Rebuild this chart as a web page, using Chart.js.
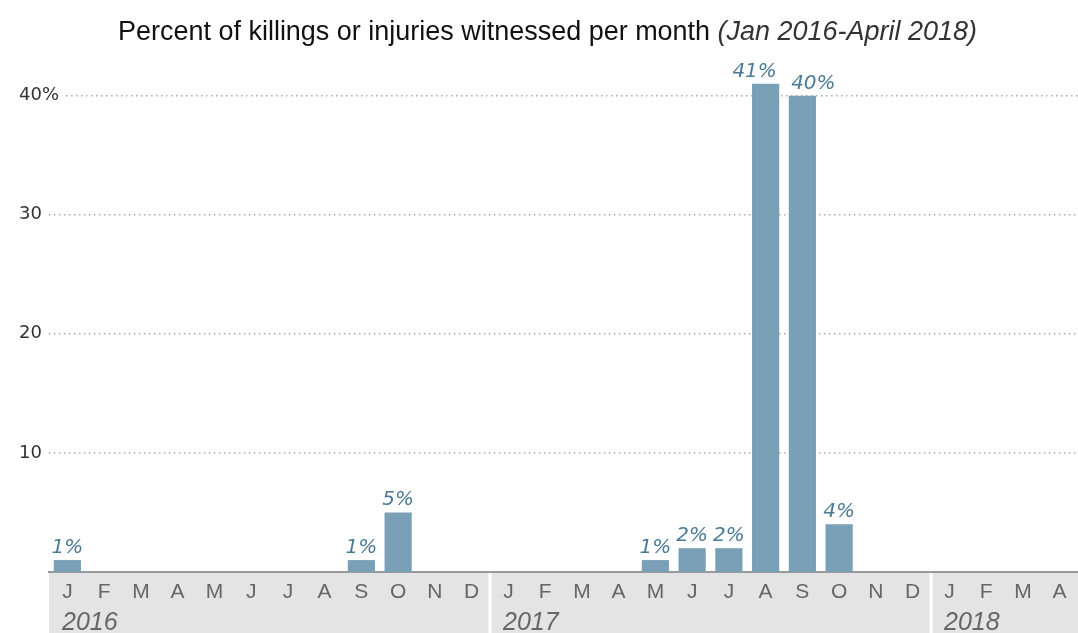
<!DOCTYPE html>
<html>
<head>
<meta charset="utf-8">
<script src="https://cdn.jsdelivr.net/npm/chart.js@4.4.1/dist/chart.umd.min.js"></script>
<style>
html, body { margin: 0; padding: 0; background: #fff; }
#wrap { width: 1078px; height: 633px; position: relative; }
</style>
</head>
<body>
<div id="wrap"><canvas id="myChart"></canvas></div>
<script>
const canvas = document.getElementById('myChart');

// podaci procitani sa slike
const monthLabels = ['J', 'F', 'M', 'A', 'M', 'J', 'J', 'A', 'S', 'O', 'N', 'D',
    'J', 'F', 'M', 'A', 'M', 'J', 'J', 'A', 'S', 'O', 'N', 'D',
    'J', 'F', 'M', 'A'];
const yearLabels = ['2016', '2017', '2018'];
const yearStart = [0, 12, 24];
const percentValues = [1, 0, 0, 0, 0, 0, 0, 0, 1, 5, 0, 0,
    0, 0, 0, 0, 1, 2, 2, 41, 40, 4, 0, 0,
    0, 0, 0, 0];
const yTicks = [10, 20, 30, 40];
const titleMain = 'Percent of killings or injuries witnessed per month ';
const titleSub = '(Jan 2016-April 2018)';

const barColor = '#7aa0b8';
const labelColor = '#4b7b95';

// granica izmedju godina
function yearEdge(x, i) {
    if (i === 0) return x.left;
    return (x.getPixelForValue(i - 1) + x.getPixelForValue(i)) / 2;
}

const decor = {
    id: 'decor',
    beforeDraw(chart) {
        const { ctx, chartArea, scales: { x } } = chart;
        ctx.save();
        // siva traka ispod ose
        ctx.fillStyle = '#e4e4e4';
        ctx.fillRect(chartArea.left, chartArea.bottom, chartArea.right - chartArea.left, chart.height - chartArea.bottom);
        ctx.fillStyle = '#ffffff';
        yearStart.slice(1).forEach(i => {
            const xx = yearEdge(x, i);
            ctx.fillRect(xx - 1.5, chartArea.bottom, 3, chart.height - chartArea.bottom);
        });
        // godine
        ctx.font = 'italic 25px "Liberation Sans", Arial, sans-serif';
        ctx.fillStyle = '#666';
        ctx.textAlign = 'left';
        ctx.textBaseline = 'alphabetic';
        yearStart.forEach((i, k) => {
            ctx.fillText(yearLabels[k], yearEdge(x, i) + 13, chart.height - 3);
        });
        // naslov - velicina se prilagodjava sirini
        const fam = '"Liberation Sans", Arial, sans-serif';
        ctx.font = '22px ' + fam;
        let w = ctx.measureText(titleMain).width;
        ctx.font = 'italic 22px ' + fam;
        w += ctx.measureText(titleSub).width;
        const size = 22 * 859 / w;
        const fMain = size + 'px ' + fam;
        const fSub = 'italic ' + size + 'px ' + fam;
        ctx.font = fMain;
        const w1 = ctx.measureText(titleMain).width;
        const start = 118;
        ctx.fillStyle = '#111';
        ctx.fillText(titleMain, start, 40);
        ctx.fillStyle = '#333';
        ctx.font = fSub;
        ctx.fillText(titleSub, start + w1, 40);
        ctx.restore();
    },
    beforeDatasetsDraw(chart) {
        const { ctx, chartArea, scales: { y } } = chart;
        ctx.save();
        ctx.font = '18px "DejaVu Sans", sans-serif';
        ctx.textBaseline = 'middle';
        ctx.textAlign = 'left';
        yTicks.forEach(v => {
            const yy = y.getPixelForValue(v);
            const txt = v === 40 ? v + '%' : String(v);
            ctx.fillStyle = '#333';
            ctx.fillText(txt, 19, yy);
            const w = ctx.measureText(txt).width;
            ctx.strokeStyle = '#aaa';
            ctx.lineWidth = 1.5;
            ctx.setLineDash([1.5, 3.5]);
            ctx.beginPath();
            ctx.moveTo(19 + w + 7, yy);
            ctx.lineTo(chartArea.right, yy);
            ctx.stroke();
        });
        ctx.restore();
    },
    afterDatasetsDraw(chart) {
        const { ctx } = chart;
        const meta = chart.getDatasetMeta(0);
        ctx.save();
        ctx.font = 'italic 20px "DejaVu Sans", sans-serif';
        ctx.fillStyle = labelColor;
        ctx.textAlign = 'center';
        ctx.textBaseline = 'alphabetic';
        meta.data.forEach((bar, i) => {
            const v = percentValues[i];
            if (v <= 0) return;
            // dva visoka susedna stubca - natpisi se razmicu
            let dx = 0;
            if (v > 30 && percentValues[i + 1] > 30) dx = -11;
            else if (v > 30 && percentValues[i - 1] > 30) dx = 11;
            ctx.fillText(v + '%', bar.x + dx, bar.y - 7);
        });
        ctx.restore();
    }
};

const myChart = new Chart(canvas, {
    type: 'bar',
    data: {
        labels: monthLabels,
        datasets: [{
            data: percentValues,
            backgroundColor: barColor,
            borderWidth: 0,
            barPercentage: 0.74,
            categoryPercentage: 1
        }]
    },
    options: {
        responsive: true,
        maintainAspectRatio: false,
        animation: false,
        events: [],
        layout: { padding: { left: 49, top: 48, right: 0, bottom: 0 } },
        plugins: {
            legend: { display: false },
            tooltip: { enabled: false }
        },
        scales: {
            x: {
                grid: { display: false, drawTicks: false },
                border: { color: '#999', width: 2 },
                ticks: {
                    color: '#666',
                    padding: 8,
                    autoSkip: false,
                    maxRotation: 0,
                    font: { family: '"Liberation Sans", Arial, sans-serif', size: 21 }
                },
                afterFit(scale) { scale.height = 61; }
            },
            y: {
                display: false,
                min: 0,
                max: 44,
                ticks: { stepSize: 10 }
            }
        }
    },
    plugins: [decor]
});
</script>
</body>
</html>
